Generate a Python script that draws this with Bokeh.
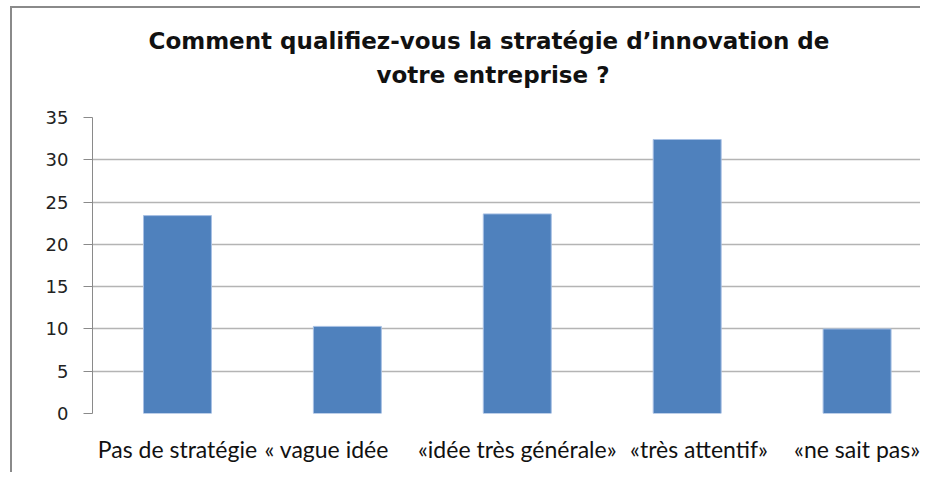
from bokeh.plotting import figure
from bokeh.models import ColumnDataSource, FixedTicker, Range1d, Title
from bokeh.embed import file_html
from bokeh.resources import INLINE

# ---- data ----
categories = ["Pas de stratégie", "« vague idée", "«idée très générale»", "«très attentif»", "«ne sait pas»"]
values = [23.4, 10.3, 23.6, 32.4, 10.0]
y_ticks = [0, 5, 10, 15, 20, 25, 30, 35]
title_lines = ["Comment qualifiez-vous la stratégie d\u2019innovation de", "votre entreprise ?"]

NB = "\u00a0"
# labels padded with non-breaking spaces, as in the original (off-centre) layout
label_text = [categories[0], categories[1] + NB * 7, categories[2], NB * 4 + categories[3], categories[4]]

positions = list(range(len(categories)))
src = ColumnDataSource(dict(x=positions, top=values))

p = figure(width=910, height=466, output_backend="svg", toolbar_location=None,
           x_range=Range1d(-0.5, 4.385), y_range=Range1d(0, 35),
           min_border_left=80, min_border_right=0, min_border_top=109, min_border_bottom=61)
p.styles = {"border-left": "2px solid #8a8a8a", "border-top": "2px solid #8a8a8a",
            "margin-left": "10px", "margin-top": "6px"}
p.outline_line_color = None
p.background_fill_color = "white"
p.border_fill_color = "white"

p.vbar(x="x", top="top", width=0.4, source=src, fill_color="#4f81bd",
       line_color="#a7c0e4", line_width=1)

# titles (second line added first so it sits closest to the plot)
t2 = Title(text=title_lines[1], align="left", text_font="DejaVu Sans", text_font_size="23px",
           text_font_style="bold", text_color="#111111", standoff=60, offset=284)
t1 = Title(text=title_lines[0], align="left", text_font="DejaVu Sans", text_font_size="23px",
           text_font_style="bold", text_color="#111111", standoff=-49, offset=56)
p.add_layout(t2, "above")
p.add_layout(t1, "above")

# y axis
p.yaxis.ticker = FixedTicker(ticks=y_ticks)
p.yaxis.axis_line_color = "#8a8a8a"
p.yaxis.major_tick_line_color = "#8a8a8a"
p.yaxis.major_tick_out = 9
p.yaxis.major_tick_in = 0
p.yaxis.minor_tick_line_color = None
p.yaxis.major_label_standoff = 15
p.yaxis.major_label_text_font = "DejaVu Sans"
p.yaxis.major_label_text_font_size = "18px"
p.yaxis.major_label_text_color = "#222222"

# x axis
p.xaxis.ticker = FixedTicker(ticks=positions)
p.xaxis.major_label_overrides = {i: c for i, c in enumerate(label_text)}
p.xaxis.axis_line_color = None
p.xaxis.major_tick_line_color = None
p.xaxis.minor_tick_line_color = None
p.xaxis.major_label_standoff = 15
p.xaxis.major_label_text_font = "Lato"
p.xaxis.major_label_text_font_size = "23px"
p.xaxis.major_label_text_color = "#111111"

# grid
p.xgrid.grid_line_color = None
p.ygrid.ticker = FixedTicker(ticks=y_ticks[1:])
p.ygrid.grid_line_color = "#b4b4b4"
p.ygrid.grid_line_width = 1.5

open("out.html", "w").write(file_html(p, INLINE))
